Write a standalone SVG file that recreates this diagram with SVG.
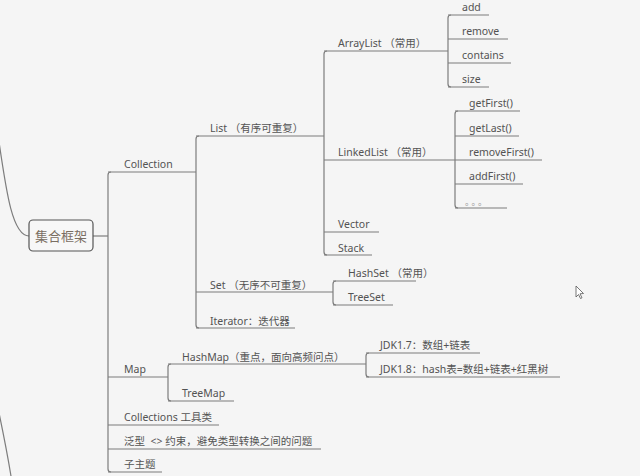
<svg xmlns="http://www.w3.org/2000/svg" width="640" height="476" viewBox="0 0 640 476">
<style>
text{font-family:"Noto Sans","Noto Sans CJK SC",sans-serif;font-size:10.5px;fill:#535353}
.root{font-size:13px;fill:#7a6e62}
.u{stroke:#7d7d7d;stroke-width:1.2;fill:none}
.c{stroke:#7d7d7d;stroke-width:1.2;fill:none}
</style>
<rect width="640" height="476" fill="#f5f5f5"/>
<g id="connectors">
<path class="c" d="M-2,135 C6,190 12,236 29,236"/>
<path class="c" d="M-1,413 C3,432 7,452 11,476"/>
<path class="c" d="M93,236 H108"/>
<path class="c" d="M111,172 Q108,172 108,175 V469 Q108,472 111,472"/>
<path class="c" d="M199,136 Q196,136 196,139 V325 Q196,328 199,328"/>
<path class="c" d="M327,51 Q324,51 324,54 V252 Q324,255 327,255"/>
<path class="c" d="M451,15 Q448,15 448,18 V84 Q448,87 451,87"/>
<path class="c" d="M458,111 Q455,111 455,114 V205 Q455,208 458,208"/>
<path class="c" d="M336,281 Q333,281 333,284 V302 Q333,305 336,305"/>
<path class="c" d="M171,364 Q168,364 168,367 V398 Q168,401 171,401"/>
<path class="c" d="M369,353 Q366,353 366,356 V374 Q366,377 369,377"/>
</g>
<g id="root">
<rect x="29" y="220" width="64" height="31" rx="4" fill="#f7f7f7" stroke="#555" stroke-width="1.2"/>
<text class="root" x="61" y="241" text-anchor="middle">集合框架</text>
</g>
<g id="n-collection"><text x="124" y="168">Collection</text><path class="u" d="M108,172 H196"/></g>
<g id="n-list"><text x="210" y="132">List （有序可重复）</text><path class="u" d="M196,136 H324"/></g>
<g id="n-arraylist"><text x="338" y="47">ArrayList （常用）</text><path class="u" d="M324,51 H448"/></g>
<g id="n-add"><text x="462" y="11">add</text><path class="u" d="M448,15 H489"/></g>
<g id="n-remove"><text x="462" y="35">remove</text><path class="u" d="M448,39 H508"/></g>
<g id="n-contains"><text x="462" y="59">contains</text><path class="u" d="M448,63 H511"/></g>
<g id="n-size"><text x="462" y="83">size</text><path class="u" d="M448,87 H489"/></g>
<g id="n-linkedlist"><text x="338" y="156">LinkedList （常用）</text><path class="u" d="M324,160 H455"/></g>
<g id="n-getfirst"><text x="469" y="107">getFirst()</text><path class="u" d="M455,111 H520"/></g>
<g id="n-getlast"><text x="469" y="132">getLast()</text><path class="u" d="M455,136 H519"/></g>
<g id="n-removefirst"><text x="469" y="156">removeFirst()</text><path class="u" d="M455,160 H542"/></g>
<g id="n-addfirst"><text x="469" y="180">addFirst()</text><path class="u" d="M455,184 H523"/></g>
<g id="n-dots"><text x="465" y="205" style="font-size:9px;fill:#9a9a9a;letter-spacing:2px">。。。</text><path class="u" d="M455,208 H507"/></g>
<g id="n-vector"><text x="338" y="228">Vector</text><path class="u" d="M324,232 H379"/></g>
<g id="n-stack"><text x="338" y="252">Stack</text><path class="u" d="M324,255 H372"/></g>
<g id="n-set"><text x="210" y="289">Set （无序不可重复）</text><path class="u" d="M196,292 H333"/></g>
<g id="n-hashset"><text x="348" y="277">HashSet （常用）</text><path class="u" d="M333,281 H416"/></g>
<g id="n-treeset"><text x="348" y="301">TreeSet</text><path class="u" d="M333,305 H393"/></g>
<g id="n-iterator"><text x="210" y="325">Iterator：迭代器</text><path class="u" d="M196,328 H295"/></g>
<g id="n-map"><text x="124" y="373">Map</text><path class="u" d="M108,377 H168"/></g>
<g id="n-hashmap"><text x="182" y="361">HashMap（重点，面向高频问点）</text><path class="u" d="M168,364 H366"/></g>
<g id="n-treemap"><text x="182" y="397">TreeMap</text><path class="u" d="M168,401 H234"/></g>
<g id="n-jdk17"><text x="380" y="349">JDK1.7：数组+链表</text><path class="u" d="M366,353 H480"/></g>
<g id="n-jdk18"><text x="380" y="373">JDK1.8：hash表=数组+链表+红黑树</text><path class="u" d="M366,377 H560"/></g>
<g id="n-collections"><text x="124" y="421">Collections 工具类</text><path class="u" d="M108,425 H219"/></g>
<g id="n-generic"><text x="124" y="445" style="white-space:pre">泛型  &lt;&gt; 约束，避免类型转换之间的问题</text><path class="u" d="M108,449 H321"/></g>
<g id="n-sub"><text x="124" y="468">子主题</text><path class="u" d="M108,472 H162"/></g>
<path d="M576,286 V297 L578.5,294.5 L580.5,298.5 L582,297.8 L580,293.8 L583.5,293.5 Z" fill="#fff" stroke="#555" stroke-width="0.8"/>
</svg>
